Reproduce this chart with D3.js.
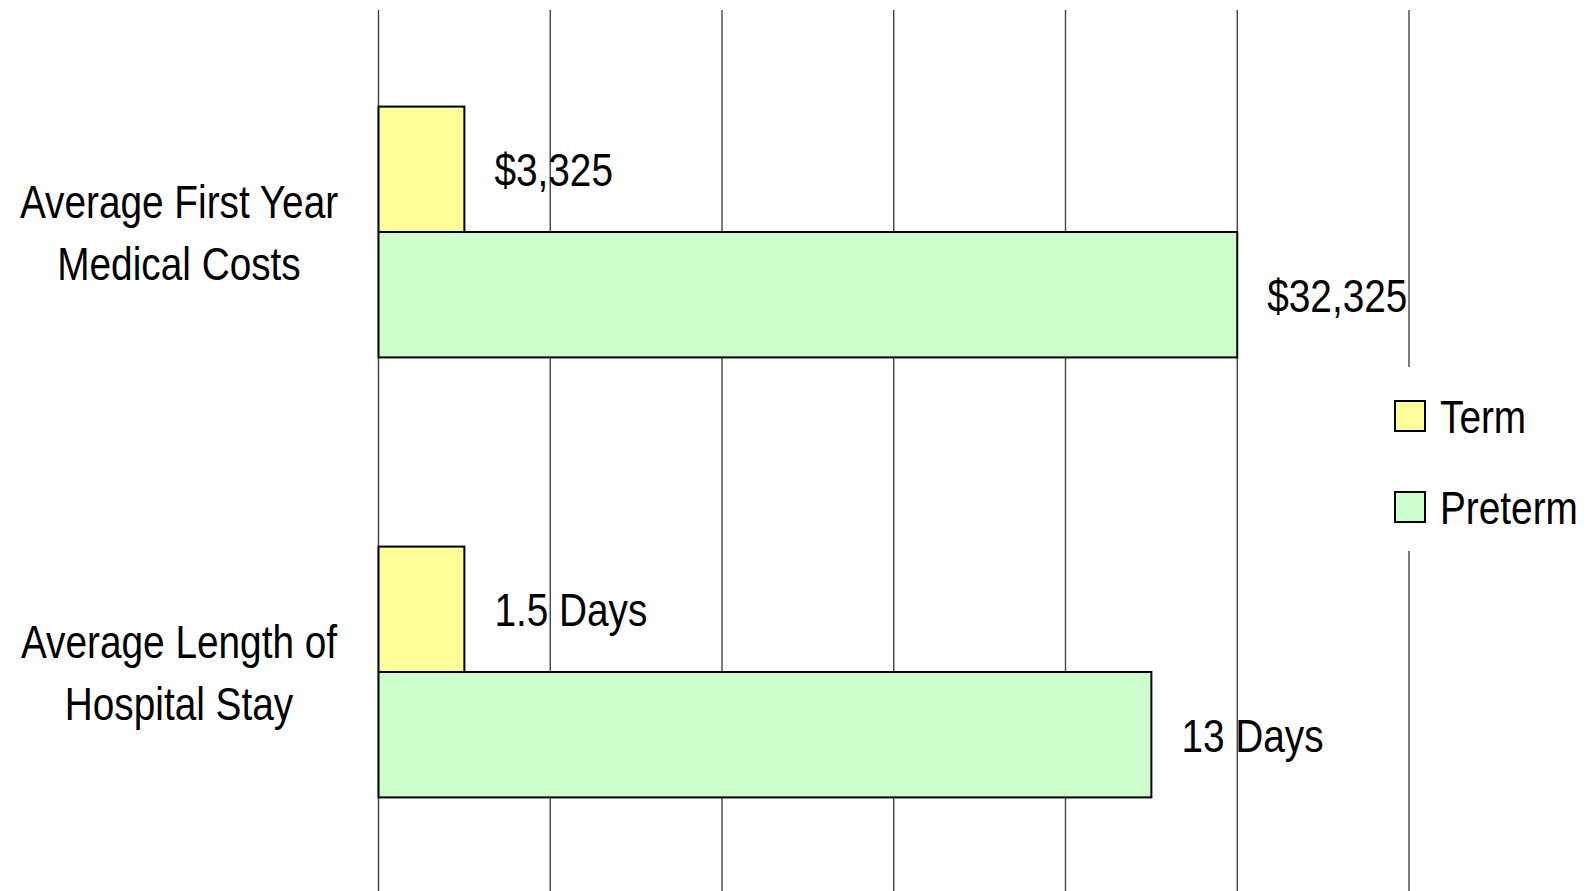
<!DOCTYPE html>
<html>
<head>
<meta charset="utf-8">
<script src="https://cdn.jsdelivr.net/npm/d3@7"></script>
<style>
  html, body { margin: 0; padding: 0; background: #fff; }
  svg text { font-family: "Liberation Sans", Arial, sans-serif; fill: #000; }
</style>
</head>
<body>
<div id="chart"></div>
<script>
// Chart data
const categories = ['Costs', 'Stay'];
const categoryLines = [['Average First Year', 'Medical Costs'], ['Average Length of', 'Hospital Stay']];
const seriesNames = ['Term', 'Preterm'];
const termValues = [0.5, 0.5];
const pretermValues = [5, 4.5];
const termLabels = ['$3,325', '1.5 Days'];
const pretermLabels = ['$32,325', '13 Days'];
const gridTicks = [0, 1, 2, 3, 4, 5, 6];
const seriesColors = ['#FFFF99', '#CCFFCC'];

const width = 1587;
const height = 891;
const fontSize = 47;
// Liberation Sans squeezed horizontally to look like Arial Narrow
const narrow = 0.825;

const svg = d3.select('#chart')
  .append('svg')
    .attr('width', width)
    .attr('height', height);

// Scales
const x = d3.scaleLinear()
  .domain([0, 6])
  .range([378.5, 1409]);

const y = d3.scaleBand()
  .domain(categories)
  .range([12, 892])
  .paddingInner(0.43)
  .paddingOuter(0.215);

const ySeries = d3.scaleBand()
  .domain(seriesNames)
  .range([0, y.bandwidth()]);

// Helper: put a narrow text at (tx, ty)
function narrowText(sel, tx, ty) {
  return sel.append('g')
    .attr('transform', (d, i) => 'translate(' + tx(d, i) + ',' + ty(d, i) + ') scale(' + narrow + ',1)')
    .append('text')
      .attr('font-size', fontSize);
}

// Vertical grid lines
svg.append('g')
  .selectAll('line')
  .data(gridTicks)
  .join('line')
    .attr('x1', (d) => x(d))
    .attr('x2', (d) => x(d))
    .attr('y1', 10)
    .attr('y2', height)
    .attr('stroke', '#444')
    .attr('stroke-width', 1.4);

// Bars
const rows = categories.map((c, i) => ([
  { cat: c, s: 'Term', v: termValues[i], label: termLabels[i], color: seriesColors[0] },
  { cat: c, s: 'Preterm', v: pretermValues[i], label: pretermLabels[i], color: seriesColors[1] }
])).flat();

svg.append('g')
  .selectAll('rect')
  .data(rows)
  .join('rect')
    .attr('x', x(0))
    .attr('y', (d) => y(d.cat) + ySeries(d.s))
    .attr('width', (d) => x(d.v) - x(0))
    .attr('height', ySeries.bandwidth())
    .attr('fill', (d) => d.color)
    .attr('stroke', '#000')
    .attr('stroke-width', 2);

// Value labels
const valueG = svg.append('g')
  .selectAll('g')
  .data(rows)
  .join('g');

narrowText(valueG,
  (d) => x(d.v) + 30,
  (d) => y(d.cat) + ySeries(d.s) + ySeries.bandwidth() / 2 + 17)
  .text((d) => d.label);

// Category labels
const catG = svg.append('g')
  .selectAll('g')
  .data(categories)
  .join('g');

const catText = narrowText(catG,
  () => 179,
  (d) => y(d) + y.bandwidth() / 2 - 14)
  .attr('text-anchor', 'middle');

catText.selectAll('tspan')
  .data((d) => categoryLines[categories.indexOf(d)])
  .join('tspan')
    .attr('x', 0)
    .attr('dy', (d, i) => i === 0 ? 0 : 62)
    .text((d) => d);

// Legend
const legend = svg.append('g');

legend.append('rect')
  .attr('x', 1385)
  .attr('y', 367)
  .attr('width', width - 1385)
  .attr('height', 184)
  .attr('fill', '#fff');

const legendItems = legend.selectAll('g.item')
  .data(seriesNames)
  .join('g')
    .attr('class', 'item')
    .attr('transform', (d, i) => 'translate(1395,' + (401 + i * 91) + ')');

legendItems.append('rect')
  .attr('width', 30)
  .attr('height', 30)
  .attr('fill', (d, i) => seriesColors[i])
  .attr('stroke', '#000')
  .attr('stroke-width', 2);

narrowText(legendItems, () => 45, () => 32)
  .text((d) => d);
</script>
</body>
</html>
